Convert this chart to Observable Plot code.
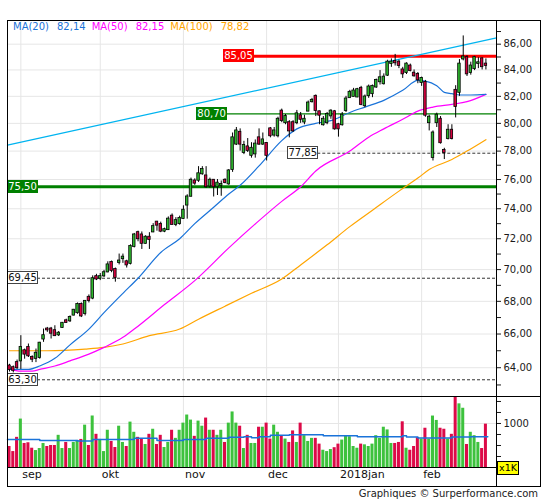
<!DOCTYPE html>
<html><head><meta charset="utf-8">
<script src="https://cdn.jsdelivr.net/npm/d3@7"></script>
<script src="https://cdn.jsdelivr.net/npm/@observablehq/plot@0.6"></script>
<style>
html,body{margin:0;padding:0;background:#fff;}
#wrap{position:relative;width:545px;height:500px;overflow:hidden;font-family:"DejaVu Sans",sans-serif;background:#fff;}
.line{position:absolute;background:#000;}
.lvl{position:absolute;height:13px;line-height:13px;font-size:10px;text-align:center;box-sizing:border-box;width:31px;}
#legend{position:absolute;left:13px;top:21px;font-size:10px;line-height:12px;white-space:nowrap;}
#legend span{display:inline-block;}
</style></head><body>
<div id="wrap"></div>
<script>
// ---- data ----
const openP = [
64.1,64.0,64.3,64.4,65.0,65.2,64.6,64.55,64.6,65.7,
66.3,66.3,66.2,65.95,66.4,66.8,66.8,67.15,67.3,67.8,
67.25,68.25,68.2,69.55,69.45,69.6,69.85,70.45,70.0,70.45,
70.7,70.5,70.4,71.5,72.4,72.25,71.7,72.1,72.45,73.1,
72.95,72.5,72.6,73.5,72.95,73.0,73.35,74.25,74.85,75.9,
75.95,76.4,76.25,75.55,75.95,75.5,75.6,75.95,75.7,76.7,
78.5,79.35,77.9,78.3,77.7,77.8,78.95,78.5,78.55,79.6,
79.15,79.1,80.9,80.05,80.05,80.05,80.05,80.55,80.1,80.9,
81.6,82.0,80.85,79.9,80.05,80.55,80.85,79.9,79.9,80.95,
81.9,82.0,81.95,82.6,81.3,82.05,82.2,82.7,83.1,82.95,
83.6,84.5,84.65,84.6,84.0,83.8,84.3,83.75,83.65,83.05,
83.05,80.05,77.55,80.05,80.3,78.05,78.9,79.5,82.45,82.3,
84.85,84.95,83.8,84.1,84.5,84.85,84.45];
const closeP = [
63.9,63.85,64.0,65.2,64.8,64.7,64.5,64.85,65.45,65.9,
66.25,66.05,65.9,66.05,66.65,66.7,67.0,67.45,67.8,67.1,
68.0,68.05,69.42,69.4,69.55,69.8,70.3,69.95,69.5,70.55,
70.8,70.3,71.5,72.25,72.0,71.7,72.1,71.95,72.8,72.9,
72.5,72.6,73.3,72.95,73.2,73.35,73.9,74.8,75.95,75.75,
76.4,76.7,75.5,75.95,75.5,75.75,75.65,75.8,76.6,78.95,
79.45,78.5,78.4,78.05,78.2,78.5,78.5,78.8,77.7,79.1,
79.45,80.3,80.2,80.5,79.45,79.45,80.7,80.3,80.3,81.5,
81.7,80.95,80.6,80.3,80.65,80.9,79.6,79.6,80.6,81.8,
82.3,82.4,82.5,81.4,81.95,82.7,82.75,83.2,83.4,83.45,
84.6,84.6,84.55,84.35,83.7,84.45,83.95,83.55,83.25,83.35,
80.6,80.45,79.3,80.6,78.6,77.9,79.5,78.9,81.25,84.45,
85.0,83.7,84.3,84.95,84.55,84.25,84.35];
const highP = [
64.2,64.1,64.45,65.9,65.1,65.4,64.7,65.1,65.5,66.3,
66.4,66.4,66.5,66.15,66.7,66.9,67.1,67.5,67.9,67.9,
68.05,68.4,69.6,69.7,69.75,69.95,70.5,70.55,70.1,71.0,
71.0,70.6,71.6,72.35,72.5,72.45,72.2,72.4,73.0,73.15,
73.1,72.7,73.45,73.65,73.4,73.5,74.2,74.95,76.1,76.05,
76.9,76.9,76.9,76.1,76.0,76.0,75.9,76.05,76.7,79.3,
79.7,79.6,78.7,78.9,78.6,78.8,79.6,79.3,78.6,79.7,
79.7,80.45,81.05,80.65,80.2,80.2,80.95,80.8,80.6,81.65,
81.85,82.1,80.9,80.5,80.8,81.0,80.95,80.0,80.8,82.0,
82.45,82.6,82.6,82.75,82.1,82.85,82.85,83.3,83.95,83.7,
84.75,84.85,85.2,84.75,84.2,84.55,84.45,84.0,83.8,83.45,
83.2,80.6,79.45,80.75,80.5,78.2,79.9,79.9,82.8,84.8,
86.65,85.1,84.6,85.05,84.95,84.95,84.85];
const lowP = [
63.75,63.7,63.9,63.9,64.5,64.6,64.3,64.3,64.5,65.5,
66.1,65.7,65.85,65.85,66.35,66.65,66.7,67.1,67.2,67.0,
67.1,67.9,68.1,69.3,69.3,69.5,69.8,69.8,69.2,70.3,
70.4,70.1,70.3,71.4,71.8,71.3,71.65,71.3,72.4,72.5,
72.4,72.4,72.55,72.9,72.8,72.9,73.3,73.3,74.8,75.6,
75.8,76.3,75.4,75.4,74.8,74.9,74.85,75.7,75.6,76.5,
78.4,78.0,77.75,77.9,77.5,77.5,78.4,78.4,77.3,78.95,
79.0,78.95,80.05,79.9,78.95,79.35,79.9,80.0,79.9,80.85,
81.5,80.5,79.9,79.8,79.9,80.3,79.5,79.0,79.8,80.8,
81.85,81.95,81.9,81.3,81.15,81.85,81.9,82.6,82.85,82.85,
83.5,84.2,84.3,84.1,83.35,83.65,83.85,83.45,82.95,82.75,
80.45,79.45,77.3,79.7,78.5,77.4,78.8,78.8,80.4,82.0,
84.7,83.5,83.6,83.95,84.1,84.0,84.0];
const volume = [
477,362,685,1100,546,562,438,385,431,546,
477,500,500,731,431,569,431,569,615,638,
962,500,1170,754,638,362,846,592,454,938,
569,477,1031,800,685,638,523,754,869,523,
731,454,569,846,662,846,1008,1192,1077,708,
1054,938,1123,846,846,731,846,569,1008,1262,
1008,938,431,731,546,546,915,915,1008,646,
962,800,723,646,569,831,569,1008,723,592,
662,662,531,392,362,408,450,531,623,723,
700,477,438,531,515,477,531,723,662,915,
854,546,546,569,1038,438,392,477,677,646,
892,646,1169,1069,892,869,646,754,1640,1446,
1346,523,800,723,569,431,985];

// moving averages read at sample trading-day indices
const ma20Idx = [0,5,8,12,16,21,25,30,34,40,45,49,54,58,61,66,72,76,81,85,90,94,99,104,108,110,113,115,117,119,122,126];
const ma20Val = [63.9,63.9,64.1,64.55,65.35,66.3,67.3,68.5,69.45,71.1,72.0,73.0,74.1,75.0,75.6,76.95,78.75,79.6,80.0,80.2,80.8,81.2,81.7,82.45,83.2,83.15,82.8,82.3,82.2,82.1,82.1,82.14];
const ma50Idx = [0,3,6,8,12,16,21,25,30,33,41,49,58,66,72,77,81,90,95,99,104,108,112,117,121,126];
const ma50Val = [63.95,63.8,63.8,63.9,64.1,64.4,64.8,65.2,65.8,66.3,67.8,69.3,71.4,73.2,74.5,75.5,76.6,78.0,79.0,79.6,80.3,80.9,81.2,81.4,81.6,82.15];
const ma100Idx = [0,10,20,25,30,37,45,50,57,64,72,77,84,90,96,103,108,111,117,121,126];
const ma100Val = [65.0,65.0,65.1,65.2,65.4,65.9,66.3,66.9,67.7,68.5,69.4,70.3,71.6,72.8,73.9,75.2,76.1,76.7,77.4,78.0,78.82];
const volMaIdx = [-0.53,8,18,22,33,39,46,52,58,62,64,66,69,74,83,92,104,105,108,117,122,126.5];
const volMaVal = [638,615,600,638,662,615,638,662,685,700,677,700,731,746,723,700,720,692,669,692,700,700];

// trend line (trading-day index, price)
const trendIdx = [-0.53, 128.8];
const trendVal = [78.42, 86.5];

// horizontal levels
const levelValues = [85.05, 80.70, 77.85, 75.50, 69.45, 63.30];
const levelFrom   = [56.6, 49.5, 73.6, -0.53, -0.53, -0.53];
const levelKind   = ["red", "green", "dash", "greenThick", "dash", "dash"];

const monthLabels = ["sep","okt","nov","dec","2018jan","feb"];
const holidays = ["2017-12-25","2017-12-26","2018-01-01"];

// ---- build ----
const dates = [];
for (let t = Date.UTC(2017,7,29); dates.length < openP.length; t += 864e5) {
  const d = new Date(t), wd = d.getUTCDay(), s = d.toISOString().slice(0,10);
  if (wd !== 0 && wd !== 6 && !holidays.includes(s)) dates.push(s);
}
const monthIdx = [];
dates.forEach((s,i) => { if (i > 0 && s.slice(5,7) !== dates[i-1].slice(5,7)) monthIdx.push(i); });

const candles = openP.map((o,i) => ({i, date: dates[i], o, h: highP[i], l: lowP[i], c: closeP[i], v: volume[i], up: closeP[i] >= o}));
const toPts = (idx, val) => idx.map((d,k) => ({i: d, v: val[k]}));
const ma20 = toPts(ma20Idx, ma20Val), ma50 = toPts(ma50Idx, ma50Val), ma100 = toPts(ma100Idx, ma100Val);
const volMa = toPts(volMaIdx, volMaVal);
const trend = toPts(trendIdx, trendVal);
const fmt = v => v.toFixed(2).replace(".", ",");

const xDomain = [-0.53, 128.8];
const priceDomain = [62.34, 87.88];
const volDomain = [0, 1613];
const priceTicks = d3.range(63, 88);
const priceLabels = d3.range(64, 87, 2);
const volTicks = [250,500,750,1000,1250,1500];

const gridColor = "#e6e6e6";
const cGreen = "#2eb82e", cRed = "#d6003f";
const vGreen = "#3dc23d", vRed = "#dc0a48";
const maBlue = "#1a73d9", maMag = "#ff00ff", maOrange = "#ffa500", trendCyan = "#00b4f0";
const lvlGreen = "#008000", lvlRed = "#ff0000";

const levels = levelValues.map((v,k) => ({v, from: levelFrom[k], to: xDomain[1], kind: levelKind[k]}));
const baseStyle = {fontFamily: "'DejaVu Sans', sans-serif", fontSize: "10px", color: "#1a1a1a", background: "transparent", overflow: "visible"};

const price = Plot.plot({
  width: 545, height: 396,
  marginTop: 20, marginBottom: 0, marginLeft: 7, marginRight: 49,
  style: baseStyle,
  color: {type: "identity"},
  x: {domain: xDomain, axis: null},
  y: {type: "log", domain: priceDomain, axis: "right", ticks: priceTicks,
      tickFormat: () => "", tickSize: 4, tickPadding: 3, label: null},
  marks: [
    Plot.ruleY(priceLabels, {stroke: gridColor}),
    Plot.ruleX(monthIdx, {stroke: gridColor}),
    Plot.ruleY(levels.filter(l => l.kind === "dash"), {y: "v", x1: "from", x2: "to", stroke: "#333", strokeDasharray: "3,2", strokeWidth: 1}),
    Plot.ruleY(levels.filter(l => l.kind === "green"), {y: "v", x1: "from", x2: "to", stroke: lvlGreen, strokeWidth: 1.4}),
    Plot.ruleY(levels.filter(l => l.kind === "greenThick"), {y: "v", x1: "from", x2: "to", stroke: lvlGreen, strokeWidth: 3}),
    Plot.ruleY(levels.filter(l => l.kind === "red"), {y: "v", x1: "from", x2: "to", stroke: lvlRed, strokeWidth: 3}),
    Plot.line(trend, {x: "i", y: "v", stroke: trendCyan, strokeWidth: 1.3}),
    Plot.line(ma100, {x: "i", y: "v", stroke: maOrange, strokeWidth: 1.2, curve: "monotone-x"}),
    Plot.line(ma50, {x: "i", y: "v", stroke: maMag, strokeWidth: 1.2, curve: "monotone-x"}),
    Plot.line(ma20, {x: "i", y: "v", stroke: maBlue, strokeWidth: 1.2, curve: "monotone-x"}),
    Plot.ruleX(candles, {x: "i", y1: "l", y2: "h", stroke: "#000", strokeWidth: 1}),
    Plot.rect(candles, {x1: d => d.i - 0.33, x2: d => d.i + 0.33,
      y1: d => Math.min(d.o, d.c), y2: d => Math.max(d.o, d.c),
      fill: d => d.up ? cGreen : cRed, stroke: "#000", strokeWidth: 0.8, insetTop: -0.5, insetBottom: -0.5}),
    Plot.text(priceLabels, {y: d => d, frameAnchor: "right", text: d => fmt(d), textAnchor: "start",
      dx: 7, fontSize: 10, fill: "#1a1a1a"})
  ]
});

const vol = Plot.plot({
  width: 545, height: 104,
  marginTop: 0, marginBottom: 33, marginLeft: 7, marginRight: 49,
  style: baseStyle,
  color: {type: "identity"},
  x: {domain: xDomain, axis: null},
  y: {domain: volDomain, clamp: true, axis: "right", ticks: volTicks,
      tickFormat: d => d === 1000 ? "1000" : "", tickSize: 4, tickPadding: 3, label: null},
  marks: [
    Plot.ruleY([1000], {stroke: gridColor}),
    Plot.ruleX(monthIdx, {stroke: gridColor}),
    Plot.rect(candles, {x1: d => d.i - 0.4, x2: d => d.i + 0.4, y1: d => 0, y2: "v", fill: d => d.up ? vGreen : vRed}),
    Plot.line(volMa, {x: "i", y: "v", stroke: maBlue, strokeWidth: 1.5, curve: "step-after"}),
    Plot.text(monthIdx, {x: d => d, frameAnchor: "bottom", text: (d,k) => monthLabels[k],
      textAnchor: "start", dx: 1.5, dy: 10.5, fontSize: 11, fill: "#111"})
  ]
});

const wrap = document.getElementById("wrap");
const pDiv = document.createElement("div"); pDiv.style.cssText = "position:absolute;left:0;top:0;";
pDiv.appendChild(price); wrap.appendChild(pDiv);
const vDiv = document.createElement("div"); vDiv.style.cssText = "position:absolute;left:0;top:396px;";
vDiv.appendChild(vol); wrap.appendChild(vDiv);

// level labels positioned through the chart's own scales
const xs = price.scale("x"), ys = price.scale("y");
levels.forEach(l => {
  const b = document.createElement("div");
  b.className = "lvl";
  b.textContent = fmt(l.v);
  b.style.left = xs.apply(l.from) + "px";
  b.style.top = (ys.apply(l.v) - 6.5) + "px";
  if (l.kind === "red") { b.style.background = lvlRed; b.style.color = "#fff"; }
  else if (l.kind === "green" || l.kind === "greenThick") { b.style.background = lvlGreen; b.style.color = "#fff"; }
  else { b.style.background = "#fff"; b.style.color = "#111"; b.style.border = "1px solid #444"; b.style.lineHeight = "11px"; }
  wrap.appendChild(b);
});

// legend
const legend = document.createElement("div"); legend.id = "legend";
[["MA(20)", ma20Val, maBlue], ["MA(50)", ma50Val, maMag], ["MA(100)", ma100Val, maOrange]].forEach(([name, vals, col]) => {
  const a = document.createElement("span"); a.textContent = name; a.style.color = col; a.style.marginRight = "8px";
  const b = document.createElement("span"); b.textContent = fmt(vals[vals.length - 1]); b.style.color = col; b.style.marginRight = "6px";
  legend.appendChild(a); legend.appendChild(b);
});
wrap.appendChild(legend);

// frame lines
function line(l, t, w, h) { const d = document.createElement("div"); d.className = "line"; d.style.cssText += `left:${l}px;top:${t}px;width:${w}px;height:${h}px;`; wrap.appendChild(d); }
line(7, 20, 534, 1);
line(7, 486, 534, 1);
line(7, 20, 1, 467);
line(540, 20, 1, 467);
line(7, 396, 534, 1);
line(496, 20, 1, 467);
line(7, 467, 489, 1);

// x1K box
const k = document.createElement("div");
k.textContent = "x1K";
k.style.cssText = "position:absolute;left:497px;top:461px;width:22px;height:14px;box-sizing:border-box;background:#ffff00;border:1px solid #000;font-size:9.5px;line-height:12px;text-align:center;color:#000;";
wrap.appendChild(k);

// credits
const cr = document.createElement("div");
cr.textContent = "Graphiques © Surperformance.com";
cr.style.cssText = "position:absolute;right:7px;top:488px;font-size:10px;line-height:12px;color:#222;white-space:nowrap;";
wrap.appendChild(cr);
</script>
</body></html>
